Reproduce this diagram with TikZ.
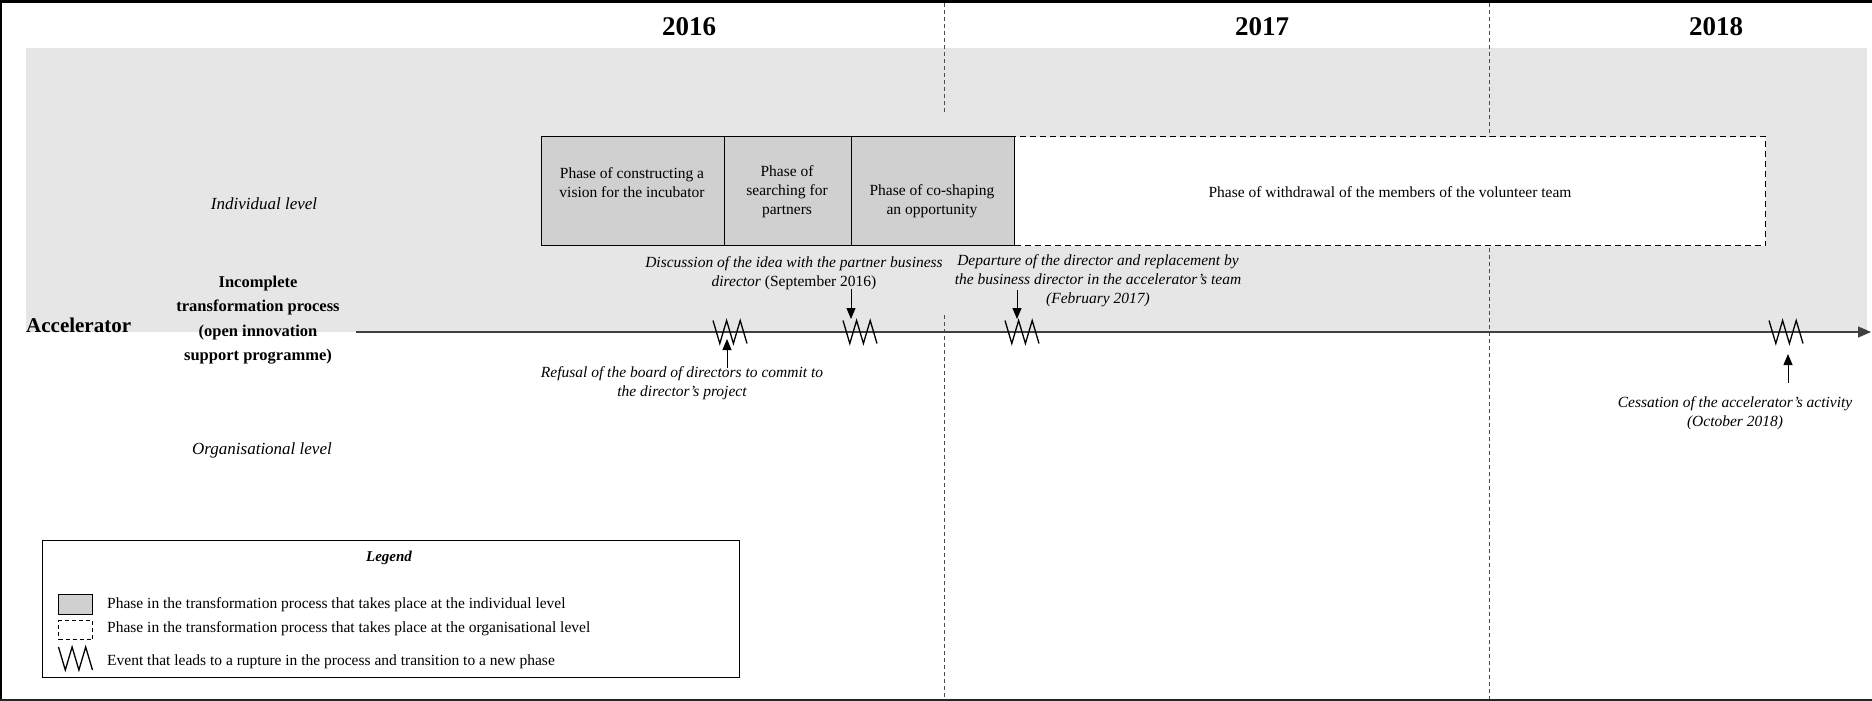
\documentclass[tikz,border=0pt]{standalone}
\usepackage{fontspec}
\setmainfont{Liberation Serif}
\usetikzlibrary{arrows.meta}
\definecolor{bggray}{HTML}{E6E6E6}
\definecolor{phasegray}{HTML}{D0D0D0}
\begin{document}
\begin{tikzpicture}[x=1pt,y=-1pt,
  txt/.style={font=\fontsize{15.5}{19}\selectfont, align=center, inner sep=0pt},
  itxt/.style={font=\fontsize{15.5}{19}\selectfont\itshape, align=center, inner sep=0pt},
  leveltxt/.style={font=\fontsize{17}{21}\selectfont\itshape, inner sep=0pt},
  yeartxt/.style={font=\fontsize{27}{30}\selectfont\bfseries, inner sep=0pt},
  phasebox/.style={draw=black, line width=1.4pt, fill=phasegray, inner sep=0pt, anchor=north west},
  orgbox/.style={draw=black, line width=1.4pt, dash pattern=on 6pt off 4pt, fill=white, inner sep=0pt, anchor=north west},
  yearline/.style={draw=black!70, line width=0.7pt, dash pattern=on 4pt off 3pt},
  evarrow/.style={draw=black, line width=0.9pt, -{Triangle[length=11pt,width=9pt]}},
  zigzag/.pic={\draw[line width=1.3pt, line join=miter] (-17,-11.5) -- (-10.2,11.5) -- (-3.4,-11.5) -- (3.4,11.5) -- (10.2,-11.5) -- (17,11.5);}
]
\useasboundingbox (0,0) rectangle (1872,701);
% background band
\fill[bggray] (26,48) rectangle (1867,332);
% frame
\draw[line width=3pt] (0,1.5) -- (1872,1.5);
\draw[line width=2pt] (1,0) -- (1,701);
\draw[line width=2pt, black!85] (0,700) -- (1872,700);
% year separators
\draw[yearline] (944,3) -- (944,113);
\draw[yearline] (944,315) -- (944,699);
\draw[yearline] (1489,3) -- (1489,699);
% years
\node[yeartxt] (y2016) at (689,27) {2016};
\node[yeartxt] (y2017) at (1262,27) {2017};
\node[yeartxt] (y2018) at (1716,27) {2018};
% phase boxes
\node[phasebox, minimum width=183pt, minimum height=109pt] (p1) at (541,136) {};
\node[phasebox, minimum width=127pt, minimum height=109pt] (p2) at (724,136) {};
\node[phasebox, minimum width=163pt, minimum height=109pt] (p3) at (851,136) {};
\node[orgbox, minimum width=751pt, minimum height=109pt] (p4) at (1014,136) {};
\node[txt] (t1) at (632,183) {Phase of constructing a\\vision for the incubator};
\node[txt] (t2) at (787,192) {Phase of\\searching for\\partners};
\node[txt] (t3) at (932,201) {Phase of co-shaping\\an opportunity};
\node[txt] (t4) at (1390,192) {Phase of withdrawal of the members of the volunteer team};
% axis
\coordinate (axstart) at (356,332);
\coordinate (axend) at (1871,332);
\draw[black!75, line width=1.3pt, -{Triangle[length=13pt,width=11pt]}] (axstart) -- (axend);
% left labels
\node[font=\fontsize{21}{24}\selectfont\bfseries, inner sep=0pt, anchor=west] (acc) at (26,325) {Accelerator};
\node[font=\fontsize{16.5}{24.5}\selectfont\bfseries, align=center, inner sep=0pt] (proc) at (258,320) {Incomplete\\transformation process\\(open innovation\\support programme)};
\node[leveltxt] (ind) at (264,204) {Individual level};
\node[leveltxt] (org) at (262,450) {Organisational level};
% events
\coordinate (e1) at (730,332);
\coordinate (e2) at (860,332);
\coordinate (e3) at (1022,332);
\coordinate (e4) at (1786,332);
\pic at (e1) {zigzag};
\pic at (e2) {zigzag};
\pic at (e3) {zigzag};
\pic at (e4) {zigzag};
% event labels
\node[itxt] (l1) at (682,383) {Refusal of the board of directors to commit to\\the director’s project};
\node[itxt] (l2) at (794,273) {Discussion of the idea with the partner business\\director \upshape(September 2016)};
\node[itxt] (l3) at (1098,281) {Departure of the director and replacement by\\the business director in the accelerator’s team\\(February 2017)};
\node[itxt] (l4) at (1735,413) {Cessation of the accelerator’s activity\\(October 2018)};
% event arrows
\coordinate (a1s) at (727,368);
\coordinate (a1e) at (727,339);
\coordinate (a2s) at (851,289);
\coordinate (a2e) at (851,319);
\coordinate (a3s) at (1017,290);
\coordinate (a3e) at (1017,319);
\coordinate (a4s) at (1788,383);
\coordinate (a4e) at (1788,354);
\draw[evarrow] (a1s) -- (a1e);
\draw[evarrow] (a2s) -- (a2e);
\draw[evarrow] (a3s) -- (a3e);
\draw[evarrow] (a4s) -- (a4e);
% legend
\node[draw=black, line width=1.4pt, fill=white, inner sep=0pt, anchor=north west, minimum width=697pt, minimum height=137pt] (legend) at (42,540) {};
\node[font=\fontsize{15}{18}\selectfont\bfseries\itshape, inner sep=0pt] (legtitle) at (389,558) {Legend};
\node[phasebox, line width=1.2pt, minimum width=34pt, minimum height=20pt] (lg1) at (58,594) {};
\node[orgbox, line width=1.2pt, dash pattern=on 4pt off 3pt, minimum width=34pt, minimum height=19pt] (lg2) at (58,620) {};
\coordinate (lg3) at (75.5,658.5);
\pic at (lg3) {zigzag};
\node[txt, anchor=west] (lt1) at (107,605) {Phase in the transformation process that takes place at the individual level};
\node[txt, anchor=west] (lt2) at (107,629) {Phase in the transformation process that takes place at the organisational level};
\node[txt, anchor=west] (lt3) at (107,662) {Event that leads to a rupture in the process and transition to a new phase};
\end{tikzpicture}
\end{document}
